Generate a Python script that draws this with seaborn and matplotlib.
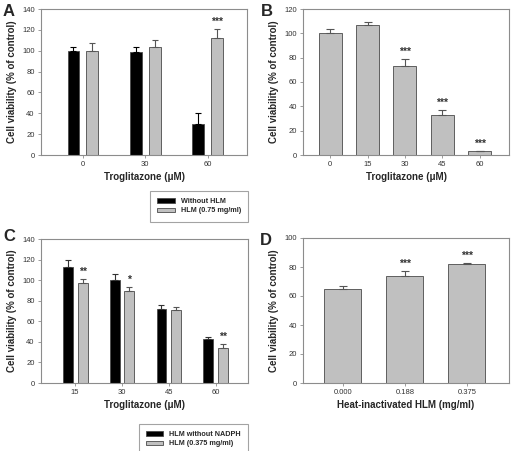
import numpy as np
import pandas as pd
import matplotlib
matplotlib.use("Agg")
import matplotlib.pyplot as plt
import seaborn as sns

# ---- data ----
# Panel A
a_conc = ["0", "30", "60"]
a_without = [100, 99, 30]
a_without_err = [4, 5, 10]
a_hlm = [100, 104, 112]
a_hlm_err = [7, 6, 9]
a_stars_hlm = ["", "", "***"]

# Panel B
b_conc = ["0", "15", "30", "45", "60"]
b_val = [100, 107, 73.5, 33, 3]
b_err = [3.5, 2.5, 5, 4, 0.5]
b_stars = ["", "", "***", "***", "***"]

# Panel C
c_conc = ["15", "30", "45", "60"]
c_nonadph = [113, 100, 72, 42.5]
c_nonadph_err = [7, 6, 4, 2.5]
c_hlm = [97, 89, 71, 34.5]
c_hlm_err = [4, 4, 3, 3.5]
c_stars_hlm = ["**", "*", "", "**"]

# Panel D
d_conc = ["0.000", "0.188", "0.375"]
d_val = [65, 74, 82]
d_err = [2, 3.5, 0.5]
d_stars = ["", "***", "***"]

GRAY = "#c0c0c0"
EDGE = "#4a4a4a"
SPINE = "#8c8c8c"

sns.set_theme(style="white")
plt.rcParams["font.family"] = ["Liberation Sans", "DejaVu Sans"]

fig = plt.figure(figsize=(5.11, 4.51), dpi=100)
W, H = 511, 451


def add_ax(x0, y0, x1, y1):
    return fig.add_axes([x0 / W, 1 - y1 / H, (x1 - x0) / W, (y1 - y0) / H])


def style_ax(ax, ymax, xlabel, xlim):
    ax.set_ylim(0, ymax)
    ax.set_yticks(np.arange(0, ymax + 1, 20))
    ax.set_xlim(*xlim)
    for s in ax.spines.values():
        s.set_color(SPINE)
        s.set_linewidth(0.8)
    ax.tick_params(axis="both", direction="out", length=2.5, width=0.6,
                   color=SPINE, labelsize=5.5, pad=2, labelcolor="#333333",
                   bottom=True, left=True)
    ax.set_xlabel(xlabel, fontsize=7, fontweight="bold", labelpad=3)
    ax.set_ylabel("Cell viability (% of control)", fontsize=7,
                  fontweight="bold", labelpad=4)


def add_err_stars(ax, bars, errs, stars, ecolor, capsize):
    xs = [b.get_x() + b.get_width() / 2 for b in bars]
    hs = [b.get_height() for b in bars]
    ax.errorbar(xs, hs, yerr=[np.zeros(len(errs)), errs], fmt="none",
                ecolor=ecolor, elinewidth=0.8, capsize=capsize, capthick=0.8)
    ymax = ax.get_ylim()[1]
    for x, h, e, s in zip(xs, hs, errs, stars):
        if s:
            ax.text(x, h + e + ymax * 0.015, s, ha="center", va="bottom",
                    fontsize=7.5, fontweight="bold", color="#333333")


def grouped(ax, conc, v1, v2, lab1, lab2, width, gap):
    df = pd.DataFrame({
        "conc": conc * 2,
        "val": v1 + v2,
        "cond": [lab1] * len(conc) + [lab2] * len(conc),
    })
    sns.barplot(data=df, x="conc", y="val", hue="cond", order=conc,
                hue_order=[lab1, lab2], palette=["black", GRAY],
                width=width, gap=gap, errorbar=None, edgecolor=EDGE,
                linewidth=0.6, ax=ax)
    handles, labels = ax.get_legend_handles_labels()
    ax.get_legend().remove()
    return handles, labels


def legend_box(handles, labels, right, top):
    leg = fig.legend(handles, labels, loc="upper right",
                     bbox_to_anchor=(right / W, 1 - top / H),
                     prop={"size": 5.2, "weight": "bold"}, frameon=True,
                     fancybox=False, edgecolor=SPINE, handlelength=2.4,
                     handleheight=0.6, handletextpad=0.8, borderpad=1.0,
                     labelspacing=0.3, borderaxespad=0)
    leg.get_frame().set_linewidth(0.8)


# ---- Panel A ----
axA = add_ax(41, 9, 247, 155)
hA, lA = grouped(axA, a_conc, a_without, a_hlm, "Without HLM",
                 "HLM (0.75 mg/ml)", 0.6, 0.37)
style_ax(axA, 140, "Troglitazone (\u03bcM)", (-0.67, 2.63))
add_err_stars(axA, axA.containers[0], a_without_err, [""] * 3, "black", 2)
add_err_stars(axA, axA.containers[1], a_hlm_err, a_stars_hlm, "#555555", 2)
legend_box(hA, lA, 248, 191)

# ---- Panel B ----
axB = add_ax(303, 9, 509, 155)
sns.barplot(x=b_conc, y=b_val, order=b_conc, color=GRAY, width=0.62,
            errorbar=None, edgecolor=EDGE, linewidth=0.6, ax=axB)
style_ax(axB, 120, "Troglitazone (\u03bcM)", (-0.73, 4.79))
add_err_stars(axB, axB.containers[0], b_err, b_stars, "#555555", 2.8)

# ---- Panel C ----
axC = add_ax(41, 239, 248, 383)
hC, lC = grouped(axC, c_conc, c_nonadph, c_hlm, "HLM without NADPH",
                 "HLM (0.375 mg/ml)", 0.63, 0.33)
style_ax(axC, 140, "Troglitazone (\u03bcM)", (-0.73, 3.69))
add_err_stars(axC, axC.containers[0], c_nonadph_err, [""] * 4, "#333333", 2)
add_err_stars(axC, axC.containers[1], c_hlm_err, c_stars_hlm, "#555555", 2)
legend_box(hC, lC, 248, 424)

# ---- Panel D ----
axD = add_ax(303, 238, 509, 383)
sns.barplot(x=d_conc, y=d_val, order=d_conc, color=GRAY, width=0.6,
            errorbar=None, edgecolor=EDGE, linewidth=0.6, ax=axD)
style_ax(axD, 100, "Heat-inactivated HLM (mg/ml)", (-0.64, 2.68))
add_err_stars(axD, axD.containers[0], d_err, d_stars, "#555555", 2.8)

# ---- panel letters ----
for letter, x, y in [("A", 3, 4), ("B", 261, 4), ("C", 3, 229), ("D", 260, 233)]:
    fig.text(x / W, 1 - y / H, letter, fontsize=12, fontweight="bold",
             ha="left", va="top")

fig.savefig("out.png", dpi=100)
